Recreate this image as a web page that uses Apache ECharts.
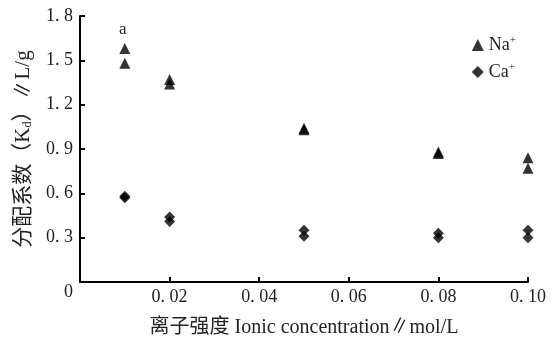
<!DOCTYPE html>
<html>
<head>
<meta charset="utf-8">
<script src="https://cdn.jsdelivr.net/npm/echarts@6/dist/echarts.min.js"></script>
<style>
  html, body { margin: 0; padding: 0; background: #fff; }
  #chart { width: 553px; height: 343px; }
</style>
</head>
<body>
<div id="chart"></div>
<script>
// 数据
const naPoints = [
  [0.01, 1.58], [0.01, 1.48],
  [0.02, 1.37], [0.02, 1.34],
  [0.05, 1.04], [0.05, 1.03],
  [0.08, 0.88], [0.08, 0.87],
  [0.10, 0.84], [0.10, 0.77]
];
const caPoints = [
  [0.01, 0.58], [0.01, 0.57],
  [0.02, 0.44], [0.02, 0.41],
  [0.05, 0.35], [0.05, 0.31],
  [0.08, 0.33], [0.08, 0.30],
  [0.10, 0.35], [0.10, 0.30]
];
const xTicks = [0, 0.02, 0.04, 0.06, 0.08, 0.10];
const yTicks = [0, 0.3, 0.6, 0.9, 1.2, 1.5, 1.8];

const serif = '"Liberation Serif", "Noto Sans CJK SC", serif';

let chart = echarts.init(document.getElementById("chart"));

let option = {
  animation: false,
  title: {
    text: "a",
    left: 114,
    top: 16,
    textStyle: { fontFamily: serif, fontWeight: "normal", fontSize: 17, color: "#222" }
  },
  legend: {
    orient: "vertical",
    right: 32,
    top: 30,
    itemWidth: 12,
    itemHeight: 12,
    itemGap: 8,
    data: [
      { name: "Na+", icon: "triangle" },
      { name: "Ca+", icon: "diamond" }
    ],
    formatter: function (name) {
      return name.replace("+", "") + "{sup|+}";
    },
    textStyle: {
      fontFamily: serif,
      fontSize: 18,
      color: "#222",
      rich: {
        sup: { fontSize: 11, verticalAlign: "top", padding: [0, 0, 9, 0], fontFamily: serif }
      }
    }
  },
  grid: {
    left: 80,
    right: 25,
    top: 16,
    bottom: 60
  },
  xAxis: {
    type: "value",
    min: 0,
    max: 0.1,
    interval: 0.02,
    name: "离子强度 Ionic concentration∥mol/L",
    nameLocation: "middle",
    nameGap: 36,
    nameTextStyle: { fontFamily: serif, fontSize: 20, color: "#222" },
    axisLine: { show: true, lineStyle: { color: "#000", width: 2 } },
    axisTick: { show: true, inside: true, length: 5, lineStyle: { color: "#000", width: 2 } },
    splitLine: { show: false },
    axisLabel: {
      showMinLabel: false,
      fontFamily: serif,
      fontSize: 18,
      color: "#222",
      margin: 6,
      formatter: function (v) {
        let i = xTicks.indexOf(Math.round(v * 100) / 100);
        return i >= 0 ? v.toFixed(2).replace(".", ". ") : "";
      }
    }
  },
  yAxis: {
    type: "value",
    min: 0,
    max: 1.8,
    interval: 0.3,
    name: "分配系数（K{sub|d}）∥L/g",
    nameLocation: "middle",
    nameGap: 46,
    nameTextStyle: {
      fontFamily: serif,
      fontSize: 21,
      color: "#222",
      rich: {
        sub: { fontSize: 12, verticalAlign: "bottom", padding: [9, 0, 0, 0], fontFamily: serif }
      }
    },
    axisLine: { show: true, lineStyle: { color: "#000", width: 2 } },
    axisTick: { show: true, inside: true, length: 5, lineStyle: { color: "#000", width: 2 } },
    splitLine: { show: false },
    axisLabel: {
      fontFamily: serif,
      fontSize: 18,
      color: "#222",
      margin: 7,
      formatter: function (v) {
        if (v === 0) return "{z|0}";
        return v.toFixed(1).replace(".", ". ");
      },
      rich: {
        z: { fontFamily: serif, fontSize: 18, color: "#222", padding: [20, 0, 0, 0] }
      }
    }
  },
  series: [
    {
      name: "Na+",
      type: "scatter",
      symbol: "triangle",
      symbolSize: 11,
      itemStyle: { color: "#000" },
      data: naPoints
    },
    {
      name: "Ca+",
      type: "scatter",
      symbol: "diamond",
      symbolSize: 11,
      itemStyle: { color: "#000" },
      data: caPoints
    }
  ]
};
chart.setOption(option);
</script>
</body>
</html>
